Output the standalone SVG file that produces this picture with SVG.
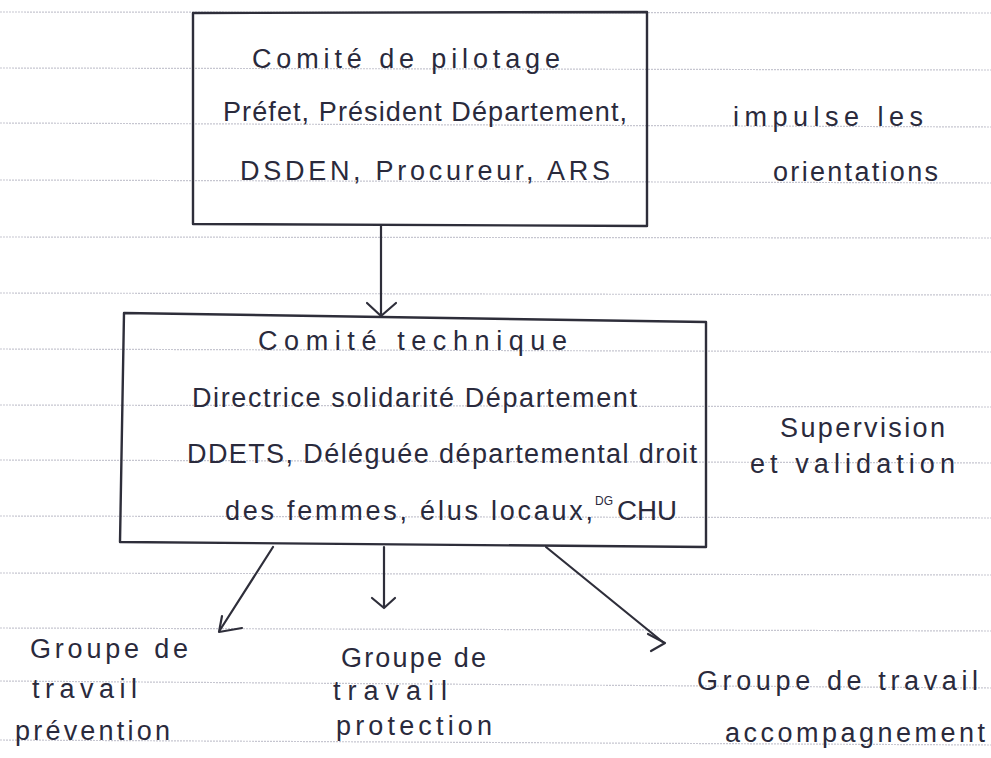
<svg xmlns="http://www.w3.org/2000/svg" width="991" height="758" viewBox="0 0 991 758">
<defs>
<style>
.rule{stroke:#c6c6d0;stroke-width:1.2;stroke-dasharray:2 1}
.box{fill:none;stroke:#2e2e3a;stroke-width:2.4;stroke-linejoin:round}
.t{font-family:"Liberation Sans",Arial,sans-serif;font-size:27px;fill:#2a2a3c}
.sup{font-family:"Liberation Sans",Arial,sans-serif;font-size:12px;fill:#2a2a3c}
.con{stroke:#2e2e3a;stroke-width:2.2;fill:none;stroke-linecap:round;stroke-linejoin:round}
</style>
</defs>
<rect width="991" height="758" fill="#ffffff"/>
<g id="paper">
<line class="rule" x1="0" y1="12" x2="991" y2="13"/>
<line class="rule" x1="0" y1="68" x2="991" y2="70"/>
<line class="rule" x1="0" y1="123" x2="991" y2="127"/>
<line class="rule" x1="0" y1="180" x2="991" y2="183"/>
<line class="rule" x1="0" y1="237" x2="991" y2="238"/>
<line class="rule" x1="0" y1="293" x2="991" y2="295"/>
<line class="rule" x1="0" y1="349" x2="991" y2="352"/>
<line class="rule" x1="0" y1="405" x2="991" y2="407"/>
<line class="rule" x1="0" y1="460" x2="991" y2="463"/>
<line class="rule" x1="0" y1="516" x2="991" y2="518"/>
<line class="rule" x1="0" y1="573" x2="991" y2="575"/>
<line class="rule" x1="0" y1="628" x2="991" y2="631"/>
<line class="rule" x1="0" y1="681" x2="991" y2="688"/>
<line class="rule" x1="0" y1="740" x2="991" y2="745"/>
</g>
<g id="connectors">
<path class="con" d="M381 226 L381 314"/>
<path class="con" d="M367 303 L381 316 L396 303"/>
<path class="con" d="M273 547 L220 630"/>
<path class="con" d="M222 616 L219 632 L242 628"/>
<path class="con" d="M384 547 L384 607"/>
<path class="con" d="M372 598 L384 608 L395 598"/>
<path class="con" d="M546 547 L664 643"/>
<path class="con" d="M648 634 L665 643 L651 651"/>
</g>
<g id="node-pilotage">
<path class="box" d="M193 13 L647 12 L647 226 L193 224 Z"/>
<text class="t" x="252" y="68" textLength="308" lengthAdjust="spacing">Comité de pilotage</text>
<text class="t" x="223" y="121" textLength="404" lengthAdjust="spacing">Préfet, Président Département,</text>
<text class="t" x="240" y="180" textLength="370" lengthAdjust="spacing">DSDEN, Procureur, ARS</text>
</g>
<g id="label-impulse">
<text class="t" x="733" y="126" textLength="190" lengthAdjust="spacing">impulse les</text>
<text class="t" x="773" y="181" textLength="165" lengthAdjust="spacing">orientations</text>
</g>
<g id="node-technique">
<path class="box" d="M124 313 L706 322 L706 547 L120 542 Z"/>
<text class="t" x="258" y="350" textLength="309" lengthAdjust="spacing">Comité technique</text>
<text class="t" x="192" y="407" textLength="445" lengthAdjust="spacing">Directrice solidarité Département</text>
<text class="t" x="187" y="463" textLength="510" lengthAdjust="spacing">DDETS, Déléguée départemental droit</text>
<text class="t" x="225" y="520" textLength="368" lengthAdjust="spacing">des femmes, élus locaux,</text>
<text class="sup" x="595" y="505">DG</text>
<text class="t" x="617" y="520" textLength="60" lengthAdjust="spacingAndGlyphs">CHU</text>
</g>
<g id="label-supervision">
<text class="t" x="780" y="437" textLength="165" lengthAdjust="spacing">Supervision</text>
<text class="t" x="750" y="473" textLength="205" lengthAdjust="spacing">et validation</text>
</g>
<g id="node-prevention">
<text class="t" x="30" y="658" textLength="158" lengthAdjust="spacing">Groupe de</text>
<text class="t" x="32" y="698" textLength="105" lengthAdjust="spacing">travail</text>
<text class="t" x="15" y="740" textLength="155" lengthAdjust="spacing">prévention</text>
</g>
<g id="node-protection">
<text class="t" x="341" y="667" textLength="145" lengthAdjust="spacing">Groupe de</text>
<text class="t" x="333" y="700" textLength="114" lengthAdjust="spacing">travail</text>
<text class="t" x="336" y="735" textLength="156" lengthAdjust="spacing">protection</text>
</g>
<g id="node-accompagnement">
<text class="t" x="697" y="690" textLength="281" lengthAdjust="spacing">Groupe de travail</text>
<text class="t" x="725" y="742" textLength="260" lengthAdjust="spacing">accompagnement</text>
</g>
</svg>
